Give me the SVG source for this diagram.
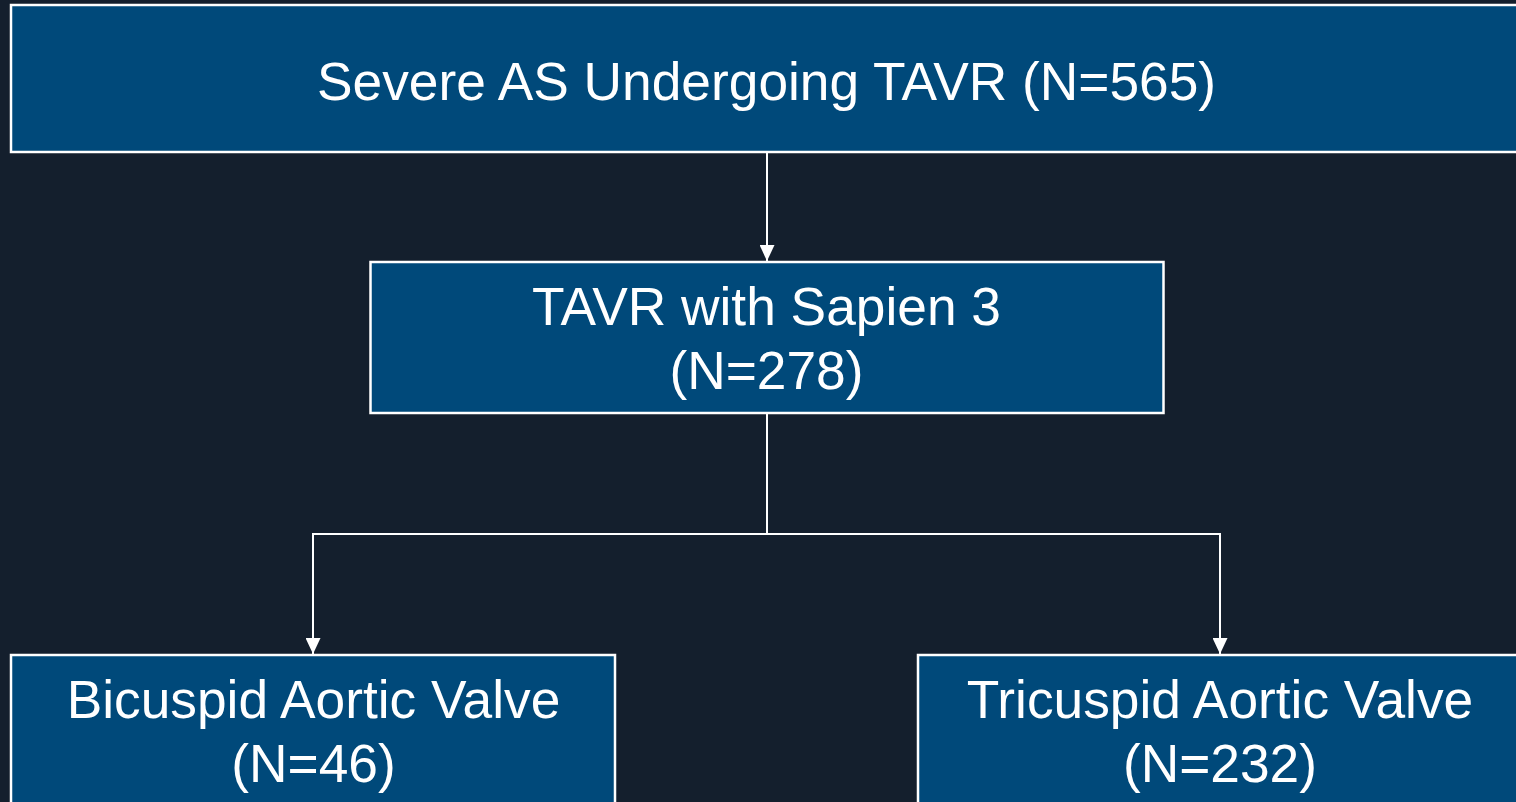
<svg xmlns="http://www.w3.org/2000/svg" width="1516" height="802" viewBox="0 0 1516 802">
<style>
.box{fill:#00497A;stroke:#FFFFFF;stroke-width:2.5}
.t{font-family:"Liberation Sans",Arial,sans-serif;font-size:53.3px;fill:#FFFFFF;text-anchor:middle}
.c{fill:none;stroke:#FFFFFF;stroke-width:2}
</style>
<defs>
<marker id="ah" viewBox="0 0 16 15" refX="16" refY="7.5" markerWidth="16" markerHeight="15" markerUnits="userSpaceOnUse" orient="auto">
<path d="M0,0 L16,7.5 L0,15 Z" fill="#FFFFFF"/>
</marker>
</defs>
<rect width="1516" height="802" fill="#141F2D"/>
<g id="connectors">
<line class="c" x1="767" y1="153" x2="767" y2="261" marker-end="url(#ah)"/>
<polyline class="c" points="767,413 767,534 313,534 313,654" marker-end="url(#ah)"/>
<polyline class="c" points="767,534 1220,534 1220,654" marker-end="url(#ah)"/>
</g>
<g id="node-severe">
<rect class="box" x="11" y="5" width="1511" height="147"/>
<text class="t" x="766.5" y="99.5">Severe AS Undergoing TAVR (N=565)</text>
</g>
<g id="node-sapien">
<rect class="box" x="370.5" y="262" width="793" height="151"/>
<text class="t" x="766.5" y="325">TAVR with Sapien 3</text>
<text class="t" x="766.5" y="389">(N=278)</text>
</g>
<g id="node-bicuspid">
<rect class="box" x="11" y="655" width="604" height="160"/>
<text class="t" x="313.5" y="718">Bicuspid Aortic Valve</text>
<text class="t" x="313.5" y="782">(N=46)</text>
</g>
<g id="node-tricuspid">
<rect class="box" x="918" y="655" width="604" height="160"/>
<text class="t" x="1220" y="718">Tricuspid Aortic Valve</text>
<text class="t" x="1220" y="782">(N=232)</text>
</g>
</svg>
